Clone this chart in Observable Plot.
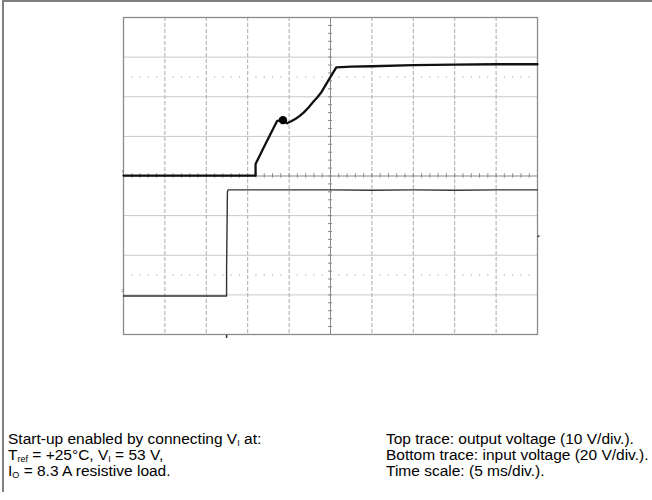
<!DOCTYPE html>
<html><head><meta charset="utf-8">
<script src="https://cdn.jsdelivr.net/npm/d3@7"></script>
<script src="https://cdn.jsdelivr.net/npm/@observablehq/plot@0.6"></script>
<style>
body{margin:0;background:#fff;font-family:"Liberation Sans",Arial,sans-serif;}
#page{position:relative;width:652px;height:500px;overflow:hidden;background:#fff;}
#frame{position:absolute;left:2px;top:0;width:650px;height:492px;border-top:2px solid #808080;border-left:2px solid #808080;box-sizing:border-box;pointer-events:none;}
#chart svg{display:block;}
#caption{position:relative;height:75px;font-size:15.5px;line-height:16px;color:#000;}
#caption .c1{position:absolute;left:8px;top:6px;white-space:nowrap;}
#caption .c2{position:absolute;left:386px;top:6px;white-space:nowrap;}
.s{font-size:9px;position:relative;top:1.5px;line-height:0;}
</style>
</head><body>
<div id="page">
<div id="chart"></div>
<div id="caption">
<div class="c1">Start-up enabled by connecting V<span class="s">I</span> at:<br>T<span class="s">ref</span> = +25°C, V<span class="s">I</span> = 53 V,<br>I<span class="s">O</span> = 8.3 A resistive load.</div>
<div class="c2">Top trace: output voltage (10 V/div.).<br>Bottom trace: input voltage (20 V/div.).<br>Time scale: (5 ms/div.).</div>
</div>
<div id="frame"></div>
</div>
<script>
// Top trace: output voltage (divisions)
const topX = [0, 1, 2, 3, 3.19, 3.19, 3.45, 3.71, 3.85, 3.95, 4.05, 4.15, 4.25, 4.35, 4.47, 4.59, 4.68, 4.77, 5.0, 5.14, 5.5, 6, 7, 8, 9, 10];
const topY = [0.01, 0.01, 0.01, 0.01, 0.01, 0.3, 0.85, 1.39, 1.41, 1.33, 1.38, 1.44, 1.51, 1.6, 1.73, 1.88, 1.98, 2.1, 2.5, 2.74, 2.76, 2.77, 2.8, 2.81, 2.82, 2.82];
// Bottom trace: input voltage (divisions)
const botX = [0, 1, 2, 2.49, 2.49, 2.51, 2.53, 2.6, 4, 5, 6, 7, 8, 9, 10];
const botY = [-3.03, -3.03, -3.03, -3.03, -2.35, -0.4, -0.35, -0.35, -0.35, -0.35, -0.36, -0.35, -0.36, -0.35, -0.35];
// Overshoot blob on output trace
const blobX = [3.85];
const blobY = [1.41];
// Grid divisions
const gridX = [1, 2, 3, 4, 6, 7, 8, 9];
const gridY = [-3, -2, -1, 1, 2, 3];
const dottedLevels = [2.5, -2.5];
// Channel markers
const markerCh = [{x: 0, y: 0.12, t: "1"}, {x: 0, y: -2.9, t: "2"}];

const topData = topX.map((x, i) => ({x, y: topY[i]}));
const botData = botX.map((x, i) => ({x, y: botY[i]}));
const blob = blobX.map((x, i) => ({x, y: blobY[i]}));
const minorX = d3.range(0, 50).map(i => i / 5).filter(v => v > 0);
const minorY = d3.range(-20, 21).map(i => i / 5).filter(v => v > -4 && v < 4);
const dots = [];
for (const lv of dottedLevels) for (const v of d3.range(1, 50)) if (v % 5 !== 0) dots.push({x: v / 5, y: lv});

const chart = Plot.plot({
  width: 652, height: 425,
  marginLeft: 123, marginRight: 115, marginTop: 17, marginBottom: 91,
  x: {domain: [0, 10], axis: null},
  y: {domain: [-4, 4], axis: null},
  marks: [
    Plot.ruleY(gridY, {stroke: "#c8c8c8", strokeWidth: 1}),
    Plot.ruleX(gridX, {stroke: "#aaaaaa", strokeWidth: 1, strokeDasharray: "4,2"}),
    Plot.dot(dots, {x: "x", y: "y", r: 0.7, fill: "#b0b0b0", stroke: null}),
    Plot.ruleY([0], {stroke: "#8a8a8a", strokeWidth: 1}),
    Plot.ruleX([5], {stroke: "#8a8a8a", strokeWidth: 1}),
    Plot.ruleX(minorX, {x: d => d, y1: -0.055, y2: 0.055, stroke: "#8a8a8a"}),
    Plot.ruleY(minorY, {y: d => d, x1: 4.95, x2: 5.05, stroke: "#8a8a8a"}),
    Plot.frame({stroke: "#8a8a8a", strokeWidth: 1.3}),
    Plot.line(botData, {x: "x", y: "y", stroke: "#333", strokeWidth: 1.4}),
    Plot.line(topData, {x: "x", y: "y", stroke: "#111", strokeWidth: 2.3}),
    Plot.dot(blob, {x: "x", y: "y", r: 4.2, fill: "#000", stroke: null}),
    Plot.text(markerCh, {x: "x", y: "y", text: "t", fontSize: 4, dx: -1, fill: "#555"}),
    Plot.ruleX([2.49], {y1: -4.02, y2: -4.1, stroke: "#333", strokeWidth: 1.5}),
    Plot.ruleY([-1.52], {x1: 10.01, x2: 10.06, stroke: "#333", strokeWidth: 1.5})
  ]
});
document.getElementById("chart").appendChild(chart);
</script>
</body></html>
